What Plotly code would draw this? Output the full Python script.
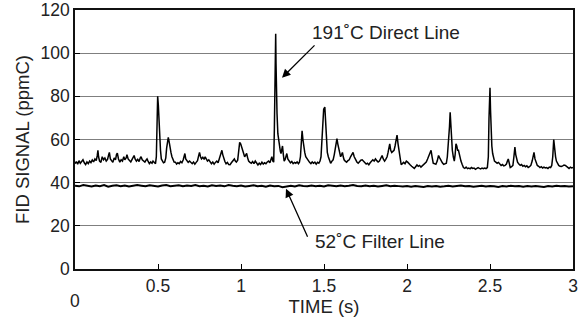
import plotly.graph_objects as go

# Direct line (191 C) trace: time (s), FID signal (ppmC)
direct_t = [
    0.000, 0.008, 0.016, 0.024, 0.032, 0.040, 0.048, 0.056, 0.064, 0.072, 0.080, 0.088, 0.096, 0.104,
    0.112, 0.120, 0.128, 0.134, 0.138, 0.142, 0.148, 0.156, 0.164, 0.172, 0.180, 0.188, 0.196, 0.203,
    0.207, 0.213, 0.220, 0.228, 0.236, 0.244, 0.250, 0.255, 0.262, 0.270, 0.278, 0.286, 0.294, 0.300,
    0.308, 0.313, 0.320, 0.328, 0.336, 0.344, 0.352, 0.356, 0.362, 0.370, 0.378, 0.386, 0.394, 0.398,
    0.405, 0.413, 0.421, 0.428, 0.434, 0.440, 0.448, 0.456, 0.464, 0.470, 0.477, 0.485, 0.490, 0.494,
    0.498, 0.502, 0.506, 0.510, 0.515, 0.520, 0.526, 0.533, 0.540, 0.547, 0.552, 0.556, 0.562, 0.567,
    0.572, 0.578, 0.584, 0.590, 0.597, 0.605, 0.612, 0.620, 0.628, 0.636, 0.644, 0.652, 0.658, 0.662,
    0.667, 0.674, 0.682, 0.690, 0.698, 0.706, 0.714, 0.722, 0.730, 0.738, 0.745, 0.750, 0.756, 0.762,
    0.770, 0.778, 0.784, 0.790, 0.798, 0.806, 0.814, 0.822, 0.830, 0.838, 0.846, 0.854, 0.862, 0.870,
    0.874, 0.880, 0.885, 0.890, 0.896, 0.903, 0.910, 0.918, 0.926, 0.934, 0.942, 0.950, 0.956, 0.960,
    0.966, 0.972, 0.980, 0.986, 0.992, 0.998, 1.004, 1.010, 1.016, 1.022, 1.028, 1.034, 1.040, 1.046,
    1.054, 1.062, 1.070, 1.078, 1.086, 1.094, 1.102, 1.110, 1.118, 1.126, 1.134, 1.142, 1.150, 1.158,
    1.166, 1.174, 1.182, 1.186, 1.192, 1.197, 1.201, 1.204, 1.207, 1.209, 1.211, 1.213, 1.217, 1.222,
    1.227, 1.232, 1.237, 1.241, 1.246, 1.250, 1.255, 1.260, 1.266, 1.272, 1.276, 1.282, 1.290, 1.298,
    1.306, 1.314, 1.322, 1.330, 1.338, 1.346, 1.352, 1.358, 1.363, 1.368, 1.373, 1.378, 1.384, 1.390,
    1.397, 1.405, 1.413, 1.421, 1.429, 1.437, 1.445, 1.453, 1.461, 1.469, 1.476, 1.482, 1.487, 1.492,
    1.498, 1.505, 1.510, 1.515, 1.520, 1.526, 1.533, 1.540, 1.548, 1.555, 1.562, 1.568, 1.574, 1.578,
    1.583, 1.588, 1.594, 1.600, 1.606, 1.611, 1.616, 1.621, 1.628, 1.636, 1.644, 1.652, 1.660, 1.668,
    1.675, 1.682, 1.690, 1.698, 1.706, 1.714, 1.722, 1.730, 1.738, 1.746, 1.754, 1.762, 1.770, 1.778,
    1.786, 1.794, 1.802, 1.810, 1.818, 1.826, 1.834, 1.842, 1.850, 1.857, 1.865, 1.872, 1.880, 1.886,
    1.891, 1.896, 1.902, 1.908, 1.915, 1.922, 1.928, 1.934, 1.940, 1.946, 1.952, 1.958, 1.965, 1.972,
    1.980, 1.988, 1.996, 2.004, 2.012, 2.020, 2.028, 2.036, 2.044, 2.052, 2.060, 2.068, 2.076, 2.084,
    2.092, 2.100, 2.108, 2.116, 2.124, 2.130, 2.138, 2.145, 2.151, 2.158, 2.166, 2.174, 2.182, 2.190,
    2.197, 2.205, 2.213, 2.221, 2.229, 2.237, 2.243, 2.250, 2.256, 2.260, 2.264, 2.268, 2.273, 2.279,
    2.285, 2.290, 2.295, 2.300, 2.305, 2.310, 2.317, 2.325, 2.332, 2.340, 2.348, 2.356, 2.364, 2.372,
    2.380, 2.388, 2.396, 2.404, 2.412, 2.420, 2.428, 2.436, 2.444, 2.452, 2.460, 2.468, 2.476, 2.484,
    2.490, 2.494, 2.500, 2.503, 2.506, 2.511, 2.516, 2.521, 2.527, 2.535, 2.543, 2.551, 2.559, 2.567,
    2.575, 2.583, 2.591, 2.599, 2.605, 2.610, 2.616, 2.622, 2.630, 2.638, 2.644, 2.650, 2.655, 2.660,
    2.666, 2.674, 2.682, 2.690, 2.698, 2.706, 2.714, 2.722, 2.730, 2.738, 2.746, 2.754, 2.760, 2.765,
    2.771, 2.778, 2.785, 2.793, 2.801, 2.809, 2.817, 2.825, 2.833, 2.841, 2.849, 2.857, 2.865, 2.872,
    2.878, 2.884, 2.889, 2.895, 2.900, 2.906, 2.914, 2.922, 2.930, 2.938, 2.946, 2.954, 2.962, 2.970,
    2.976, 2.984, 2.992, 3.000]
direct_v = [
    48.8, 49.8, 48.6, 50.2, 49.0, 49.6, 50.6, 49.2, 48.4, 49.6, 48.8, 50.0, 49.3, 50.5,
    49.6, 51.0, 50.2, 52.5, 55.0, 52.0, 50.0, 49.4, 52.0, 50.6, 51.4, 50.0, 50.8, 53.0,
    54.0, 51.0, 50.0, 49.4, 51.5, 50.6, 53.0, 53.7, 51.0, 49.5, 50.6, 50.0, 52.0, 50.6,
    51.5, 53.0, 51.0, 50.0, 49.6, 50.8, 51.8, 52.6, 51.0, 50.0, 50.8, 49.8, 51.6, 52.0,
    50.6, 50.0, 49.5, 50.4, 51.0, 50.0, 48.8, 49.6, 49.0, 50.0, 49.4, 48.8, 52.0, 66.0,
    80.0, 76.0, 68.0, 60.0, 55.0, 51.0, 50.0, 49.2, 49.5, 51.5, 56.0, 59.0, 61.0, 59.0,
    56.0, 54.0, 52.0, 50.6, 49.6, 49.5, 48.6, 49.2, 48.8, 49.8, 49.2, 50.6, 53.0, 53.5,
    51.0, 50.0, 49.4, 50.0, 49.2, 48.8, 49.6, 48.6, 49.4, 50.2, 52.5, 54.0, 52.0, 51.0,
    51.8, 50.8, 52.0, 51.2, 50.0, 50.6, 49.4, 48.8, 49.6, 48.6, 49.4, 50.0, 49.2, 51.0,
    52.6, 53.5, 55.0, 53.0, 51.0, 49.8, 48.8, 49.4, 48.4, 48.3, 49.2, 49.8, 50.6, 51.0,
    50.0, 49.5, 50.4, 54.0, 58.7, 58.0, 56.5, 55.0, 53.0, 52.0, 52.8, 53.5, 51.5, 50.0,
    49.4, 49.0, 49.8, 48.8, 50.0, 49.2, 48.2, 49.0, 48.4, 49.5, 48.6, 49.2, 48.8, 49.6,
    50.0, 49.2, 51.0, 52.0, 50.0, 49.5, 65.0, 80.0, 95.0, 109.0, 95.0, 80.0, 72.0, 62.7,
    59.0, 56.5, 54.5, 53.5, 56.0, 57.0, 53.0, 50.0, 50.8, 52.5, 53.5, 51.0, 50.0, 49.2,
    49.8, 48.8, 49.4, 49.0, 49.6, 48.8, 49.5, 52.0, 58.0, 64.0, 60.0, 56.5, 54.0, 52.0,
    51.0, 50.0, 49.4, 48.8, 49.6, 49.0, 49.5, 48.6, 49.4, 49.0, 50.0, 52.0, 58.0, 68.8,
    74.0, 75.0, 66.0, 58.0, 54.0, 52.0, 49.8, 49.0, 50.0, 50.6, 53.0, 56.0, 59.0, 60.4,
    58.0, 55.7, 53.5, 52.0, 53.0, 54.0, 52.0, 50.6, 50.0, 49.5, 50.2, 50.6, 52.0, 53.0,
    54.0, 52.0, 50.6, 49.6, 49.0, 49.8, 50.4, 50.6, 49.8, 49.0, 48.6, 49.0, 48.3, 49.2,
    50.0, 50.6, 50.0, 51.0, 50.2, 49.6, 50.0, 51.0, 52.6, 51.0, 50.0, 50.8, 52.0, 54.0,
    56.0, 58.0, 55.0, 54.0, 54.5, 55.0, 57.0, 60.0, 62.0, 58.0, 55.0, 51.0, 48.3, 48.8,
    49.4, 48.8, 50.0, 49.5, 48.6, 48.2, 47.6, 47.0, 46.6, 47.4, 48.2, 47.6, 48.0, 47.2,
    47.8, 48.4, 49.0, 49.6, 51.0, 52.0, 53.5, 55.0, 52.0, 49.0, 48.8, 48.5, 50.0, 52.6,
    51.5, 50.0, 49.2, 48.5, 48.8, 49.0, 52.0, 58.0, 66.0, 72.6, 66.0, 60.0, 55.0, 52.0,
    50.0, 53.0, 58.0, 57.0, 55.0, 55.0, 52.0, 50.0, 48.5, 47.0, 46.6, 47.2, 46.5, 46.8,
    46.4, 47.0, 46.6, 46.8, 46.2, 46.5, 47.0, 46.6, 46.4, 46.8, 46.5, 46.8, 46.5, 47.0,
    52.0, 70.0, 84.0, 74.0, 62.7, 57.0, 53.5, 51.0, 50.0, 49.5, 49.0, 49.4, 48.6, 48.0,
    48.4, 47.8, 48.0, 48.6, 50.0, 51.0, 49.0, 47.0, 47.4, 48.0, 52.0, 56.5, 53.0, 50.5,
    49.5, 48.6, 48.0, 48.4, 47.6, 48.0, 47.4, 47.8, 47.0, 47.4, 48.0, 50.0, 52.5, 54.0,
    51.0, 49.0, 48.0, 47.6, 47.0, 47.4, 46.8, 47.2, 46.8, 47.0, 46.6, 47.2, 47.0, 48.0,
    52.0, 60.0, 55.0, 52.0, 50.0, 49.0, 48.0, 47.6, 47.5, 47.8, 48.2, 48.0, 47.4, 46.8,
    46.6, 47.2, 46.8, 47.0]

# Filter line (52 C) trace
filter_t = [
    0.000, 0.025, 0.050, 0.075, 0.100, 0.125, 0.150, 0.175, 0.200, 0.225, 0.250, 0.275, 0.300, 0.325,
    0.350, 0.375, 0.400, 0.425, 0.450, 0.475, 0.500, 0.525, 0.550, 0.575, 0.600, 0.625, 0.650, 0.675,
    0.700, 0.725, 0.750, 0.775, 0.800, 0.825, 0.850, 0.875, 0.900, 0.925, 0.950, 0.975, 1.000, 1.025,
    1.050, 1.075, 1.100, 1.125, 1.150, 1.175, 1.200, 1.225, 1.250, 1.275, 1.300, 1.325, 1.350, 1.375,
    1.400, 1.425, 1.450, 1.475, 1.500, 1.525, 1.550, 1.575, 1.600, 1.625, 1.650, 1.675, 1.700, 1.725,
    1.750, 1.775, 1.800, 1.825, 1.850, 1.875, 1.900, 1.925, 1.950, 1.975, 2.000, 2.025, 2.050, 2.075,
    2.100, 2.125, 2.150, 2.175, 2.200, 2.225, 2.250, 2.275, 2.300, 2.325, 2.350, 2.375, 2.400, 2.425,
    2.450, 2.475, 2.500, 2.525, 2.550, 2.575, 2.600, 2.625, 2.650, 2.675, 2.700, 2.725, 2.750, 2.775,
    2.800, 2.825, 2.850, 2.875, 2.900, 2.925, 2.950, 2.975, 3.000]
filter_v = [
    38.6, 38.3, 38.9, 38.5, 38.2, 38.7, 38.4, 38.9, 38.1, 38.6, 38.8, 38.4, 38.7, 38.2,
    38.5, 38.9, 38.6, 38.3, 38.8, 38.5, 38.2, 38.7, 38.9, 38.4, 38.6, 38.8, 38.3, 38.7,
    38.5, 38.9, 38.4, 38.6, 38.2, 38.8, 38.5, 38.7, 38.3, 38.9, 38.6, 38.4, 38.7, 38.2,
    38.5, 38.8, 38.4, 38.6, 38.1, 38.7, 38.3, 38.5, 37.9, 38.4, 38.6, 38.2, 38.8, 38.5,
    38.3, 38.7, 38.4, 38.6, 38.2, 38.8, 38.5, 38.3, 38.7, 38.4, 38.6, 38.9, 38.5, 38.3,
    38.7, 38.4, 38.6, 38.2, 38.5, 38.8, 38.3, 38.6, 38.4, 38.2, 38.5, 38.1, 38.4, 38.3,
    38.0, 38.4, 38.2, 38.5, 38.1, 38.3, 38.6, 38.2, 38.4, 38.7, 38.3, 38.5, 38.1, 38.4,
    38.6, 38.2, 38.5, 38.3, 38.0, 38.4, 38.2, 38.6, 38.3, 38.5, 38.1, 38.4, 38.2, 38.5,
    38.3, 38.0, 38.4, 38.2, 38.6, 38.3, 38.5, 38.2, 38.4]

x_ticks = [0.5, 1, 1.5, 2, 2.5, 3]
x_tick_text = ["0.5", "1", "1.5", "2", "2.5", "3"]
y_ticks = [0, 20, 40, 60, 80, 100, 120]

FONT = "Liberation Sans, Arial, sans-serif"
TXT = "#222222"

fig = go.Figure()
fig.add_trace(go.Scatter(x=filter_t, y=filter_v, mode="lines",
                         line=dict(color="black", width=2), showlegend=False))
fig.add_trace(go.Scatter(x=direct_t, y=direct_v, mode="lines",
                         line=dict(color="black", width=1.5), showlegend=False))

fig.update_layout(
    width=581, height=320,
    margin=dict(l=75, r=8, t=10, b=51, autoexpand=False),
    paper_bgcolor="white", plot_bgcolor="white",
    font=dict(family=FONT, size=17.5, color=TXT),
    xaxis=dict(range=[0, 3], tickvals=x_ticks, ticktext=x_tick_text, automargin=False,
               ticks="inside", ticklen=5, tickcolor="black", tickwidth=1,
               showgrid=False, zeroline=False,
               showline=True, linecolor="#111111", linewidth=1.5, mirror=True,
               title=dict(text="TIME (s)", standoff=4, font=dict(size=18.5))),
    yaxis=dict(range=[0, 120], tickvals=y_ticks, automargin=False,
               ticks="inside", ticklen=5, tickcolor="black",
               showgrid=True, gridcolor="#7f7f7f", gridwidth=1, zeroline=False,
               showline=True, linecolor="#111111", linewidth=1.5, mirror=True,
               title=dict(text="FID SIGNAL (ppmC)", standoff=6, font=dict(size=18.5))),
)

# "0" label at the origin, placed lower than the other tick labels
fig.add_annotation(x=0, y=0, xref="x", yref="paper", text="0", showarrow=False,
                   xanchor="center", yanchor="middle", yshift=-32,
                   font=dict(size=17.5, color=TXT))

fig.add_annotation(x=1.416, y=109.4, xref="x", yref="y", text="191˚C Direct Line",
                   showarrow=False, xanchor="left", yanchor="middle",
                   font=dict(size=19, color=TXT))
fig.add_annotation(x=1.247, y=88.6, ax=1.452, ay=104.3, xref="x", yref="y",
                   axref="x", ayref="y", text="", showarrow=True,
                   arrowhead=2, arrowsize=1.3, arrowwidth=1.3, arrowcolor="black")

fig.add_annotation(x=1.432, y=12.7, xref="x", yref="y", text="52˚C Filter Line",
                   showarrow=False, xanchor="left", yanchor="middle",
                   font=dict(size=19, color=TXT))
fig.add_annotation(x=1.271, y=37.2, ax=1.405, ay=14.2, xref="x", yref="y",
                   axref="x", ayref="y", text="", showarrow=True,
                   arrowhead=2, arrowsize=1.3, arrowwidth=1.3, arrowcolor="black")

fig.write_html("out.html", config={"displayModeBar": False},
               post_script="document.body.style.margin='0';document.body.style.overflow='hidden';")
